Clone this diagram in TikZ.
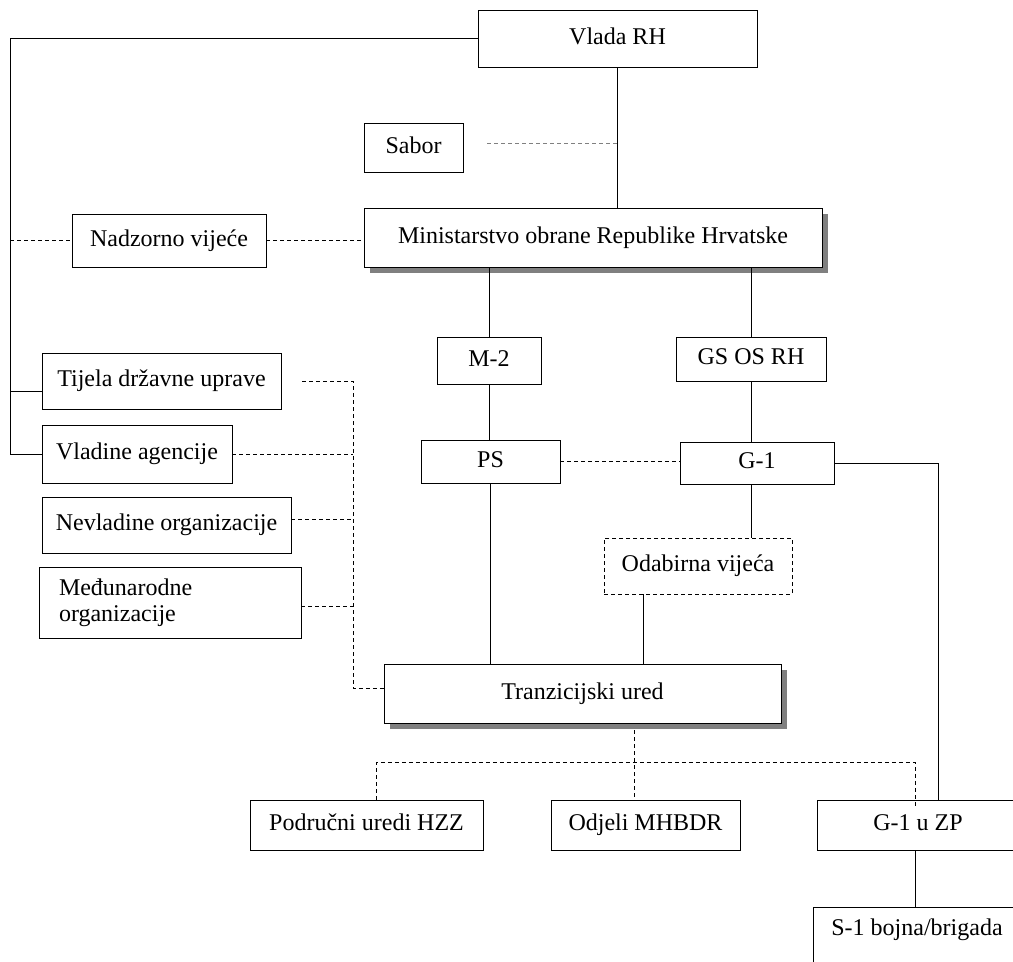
\documentclass[tikz,border=0pt]{standalone}
\usepackage{fontspec}
\setmainfont{Liberation Serif}
\usetikzlibrary{shadows}

\tikzset{
  box/.style={draw, line width=0.9pt, inner sep=2pt, text height=16pt, text depth=5pt},
  shadowed/.style={drop shadow={shadow xshift=6pt, shadow yshift=-6pt, fill=black!50, opacity=1}},
  link/.style={line width=0.9pt},
  dashline/.style={line width=0.9pt, dash pattern=on 4pt off 3pt},
}

\begin{document}
\begin{tikzpicture}[x=1pt, y=-1pt, font=\fontsize{24pt}{26pt}\selectfont]
                \useasboundingbox (0,0) rectangle (1013,962);
                \clip (0,0) rectangle (1013,962);

                \node[box, minimum width=279pt, minimum height=57pt] (vlada)   at (617.5,38.5) {Vlada RH};
                \node[box, minimum width=99pt,  minimum height=49pt] (sabor)   at (413.5,147.5) {Sabor};
                \node[box, shadowed, fill=white, minimum width=458pt, minimum height=59pt] (mo) at (593,237.5) {Ministarstvo obrane Republike Hrvatske};
                \node[box, minimum width=194pt, minimum height=53pt] (nadzor)  at (169,240.5) {Nadzorno vijeće};
                \node[box, minimum width=104pt, minimum height=47pt] (mtwo)    at (489,360.5) {M-2};
                \node[box, minimum width=150pt, minimum height=44pt] (gs)      at (751,359) {GS OS RH};
                \node[box, minimum width=139pt, minimum height=43pt] (ps)      at (490.5,461.5) {PS};
                \node[box, minimum width=154pt, minimum height=42pt] (gone)    at (757,463) {G-1};
                \node[box, dashline, minimum width=188pt, minimum height=56pt] (odab) at (698,566) {Odabirna vijeća};

                \node[box, minimum width=239pt, minimum height=56pt] (tijela)  at (161.5,381) {Tijela državne uprave};
                \node[box, minimum width=190pt, minimum height=58pt] (vladine) at (137,454) {Vladine agencije};
                \node[box, minimum width=249pt, minimum height=56pt] (nevlad)  at (166.5,525) {Nevladine organizacije};
                \node[box, text height={}, text depth={}, align=left, text width=222pt, inner xsep=20pt,
                      minimum height=71pt] (medju) at (170,602.5) {Međunarodne\\organizacije};

                \node[box, shadowed, fill=white, minimum width=397pt, minimum height=59pt] (tranz) at (582.5,693.5) {Tranzicijski ured};
                \node[box, minimum width=233pt, minimum height=50pt] (podr)    at (366.5,825) {Područni uredi HZZ};
                \node[box, minimum width=189pt, minimum height=50pt] (odjeli)  at (645.5,825) {Odjeli MHBDR};
                \node[box, minimum width=202pt, minimum height=50pt] (gzp)     at (918,825) {G-1 u ZP};
                \node[box, anchor=north, minimum width=208pt, text height=26pt, text depth=40pt] (sone) at (917,907) {S-1 bojna/brigada};

                \coordinate (lefttop) at (10,38.5);
                \coordinate (tijlink) at ([yshift=-10pt]tijela.west);
                \coordinate (bustop)  at (353,381);
                \coordinate (dropc)   at (634,762);

                \draw[link] (vlada.west) -- (lefttop) |- (vladine.west);
                \draw[link] (lefttop |- tijlink) -- (tijlink);
                \draw[link] (vlada.south) -- (vlada.south |- mo.north);
                \draw[dashline, gray] ([xshift=24pt,yshift=4pt]sabor.east) -- ([yshift=4pt]vlada.south |- sabor.east);
                \draw[dashline] (lefttop |- nadzor.west) -- (nadzor.west);
                \draw[dashline] (nadzor.east) -- (mo.west |- nadzor.east);

                \draw[link] (mtwo.north |- mo.south) -- (mtwo.north);
                \draw[link] (gs.north |- mo.south) -- (gs.north);
                \draw[link] (mtwo.south) -- (mtwo.south |- ps.north);
                \draw[link] (gs.south) -- (gs.south |- gone.north);
                \draw[dashline] (ps.east) -- (ps.east -| gone.west);
                \draw[link] (gs.south |- gone.south) -- (gs.south |- odab.north);
                \draw[link] ([xshift=-55pt]odab.south) -- ([xshift=-55pt]odab.south |- tranz.north);
                \draw[link] (ps.south) -- (ps.south |- tranz.north);
                \draw[link] (gone.east) -| ([xshift=20pt]gzp.north);

                \draw[dashline] ([xshift=21pt]tijela.east) -- (bustop) |- ([yshift=5pt]tranz.west);
                \draw[dashline] (vladine.east) -- (vladine.east -| bustop);
                \draw[dashline] ([yshift=6pt]nevlad.east) -- ([yshift=6pt]nevlad.east -| bustop);
                \draw[dashline] ([yshift=-4pt]medju.east) -- ([yshift=-4pt]medju.east -| bustop);

                \draw[dashline] ([xshift=51.5pt,yshift=-7pt]tranz.south) -- (dropc |- odjeli.north);
                \draw[dashline] ([xshift=10pt]podr.north) |- (dropc) -| ([xshift=-3pt,yshift=-7pt]gzp.north);
                \draw[link] ([xshift=-3pt]gzp.south) -- ([xshift=-3pt]gzp.south |- sone.north);
            \end{tikzpicture}
\end{document}
